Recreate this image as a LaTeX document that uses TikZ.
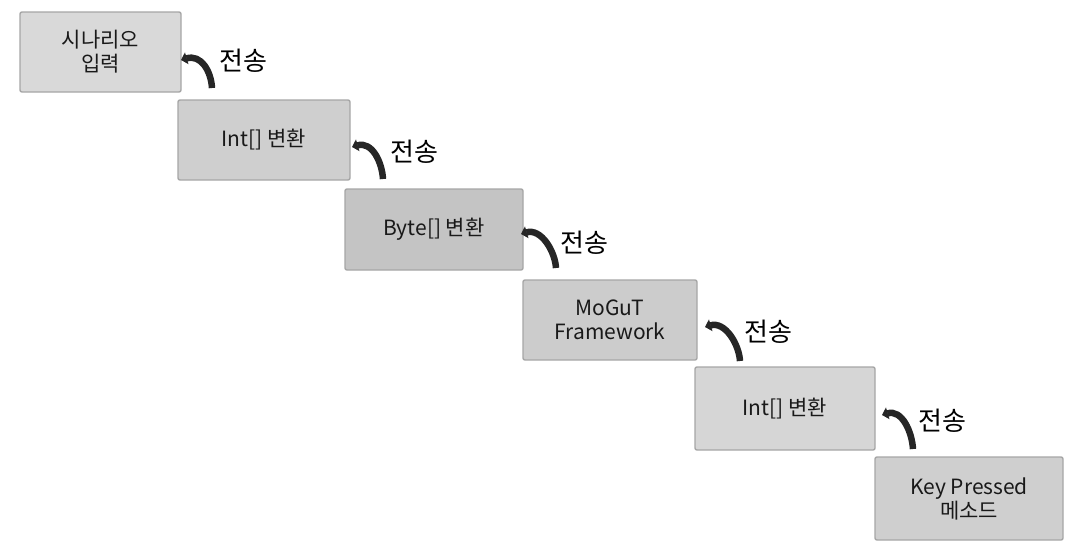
\documentclass[tikz,border=0pt]{standalone}
\usepackage{fontspec}
\setmainfont{Noto Sans CJK KR}
\usetikzlibrary{arrows.meta,calc}
\tikzset{
  stagebox/.style={draw=gray!70, line width=1.4pt, rounded corners=2pt,
    align=center, inner sep=0pt, font=\fontsize{21}{24}\selectfont, text=black!90},
  sendarrow/.style={line width=6.5pt, black!85,
    -{Triangle[length=6pt,width=12pt]}},
  sendlabel/.style={font=\fontsize{26}{28}\selectfont, inner sep=0pt}
}
\begin{document}
\begin{tikzpicture}[x=1pt,y=-1pt]
\useasboundingbox (0,0) rectangle (1069,544);

% processing stages
\node[stagebox, fill=gray!30, minimum width=161pt, minimum height=80pt] (b1) at (100.5,52) {시나리오\\입력};
\node[stagebox, fill=gray!38, minimum width=172pt, minimum height=80pt] (b2) at (264,140) {Int[] 변환};
\node[stagebox, fill=gray!46, minimum width=178pt, minimum height=81pt] (b3) at (434,229.5) {Byte[] 변환};
\node[stagebox, fill=gray!40, minimum width=174pt, minimum height=80pt] (b4) at (610,320) {MoGuT\\Framework};
\node[stagebox, fill=gray!32, minimum width=180pt, minimum height=83pt] (b5) at (785,408.5) {Int[] 변환};
\node[stagebox, fill=gray!38, minimum width=188pt, minimum height=83pt] (b6) at (969,498.5) {Key Pressed\\메소드};

% arrow end points
\coordinate (s1) at (181,60);  \coordinate (e1) at (212,88);
\coordinate (s2) at (352,147); \coordinate (e2) at (383,179);
\coordinate (s3) at (521,234); \coordinate (e3) at (556,268);
\coordinate (s4) at (705,327); \coordinate (e4) at (740,361);
\coordinate (s5) at (882,415); \coordinate (e5) at (913,449);

% curved transfer arrows
\foreach \i in {1,...,5}{
  \draw[sendarrow] (e\i) .. controls ($(e\i)+(-1,-17)$) and ($(s\i)+(20,-6)$) .. (s\i);
}

% labels
\node[sendlabel] (l1) at (243,61)  {전송};
\node[sendlabel] (l2) at (414,152) {전송};
\node[sendlabel] (l3) at (584,243) {전송};
\node[sendlabel] (l4) at (768,332) {전송};
\node[sendlabel] (l5) at (942,421) {전송};
\end{tikzpicture}
\end{document}
